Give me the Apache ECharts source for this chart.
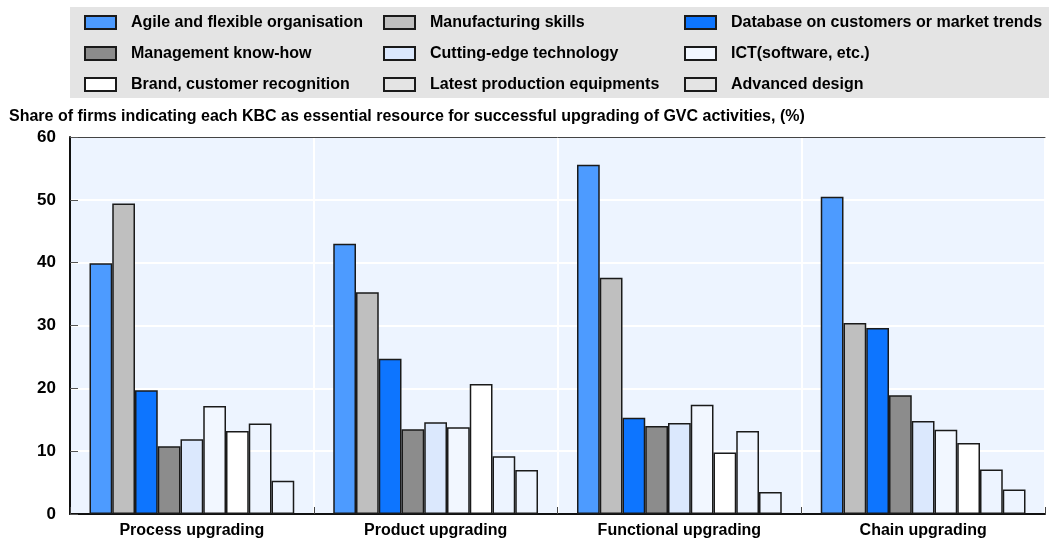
<!DOCTYPE html>
<html>
<head>
<meta charset="utf-8">
<script src="https://cdn.jsdelivr.net/npm/echarts@6/dist/echarts.min.js"></script>
<style>
  html, body { margin: 0; padding: 0; background: #fff; }
  #chart { width: 1049px; height: 543px; }
</style>
</head>
<body>
<div id="chart"></div>
<script>
const categories = ['Process upgrading', 'Product upgrading', 'Functional upgrading', 'Chain upgrading']

const seriesNames = [
  'Agile and flexible organisation',
  'Manufacturing skills',
  'Database on customers or market trends',
  'Management know-how',
  'Cutting-edge technology',
  'ICT(software, etc.)',
  'Brand, customer recognition',
  'Latest production equipments',
  'Advanced design'
]

const agile = [39.9, 43.0, 55.6, 50.5]
const manufacturing = [49.4, 35.3, 37.6, 30.4]
const database = [19.7, 24.7, 15.3, 29.6]
const management = [10.8, 13.5, 14.0, 18.9]
const cuttingEdge = [11.9, 14.6, 14.5, 14.8]
const ict = [17.2, 13.8, 17.4, 13.4]
const brand = [13.2, 20.7, 9.8, 11.3]
const latestEquipment = [14.4, 9.2, 13.2, 7.1]
const advancedDesign = [5.3, 7.0, 3.5, 3.9]

const yTicks = [0, 10, 20, 30, 40, 50, 60]

const allValues = [agile, manufacturing, database, management, cuttingEdge, ict, brand, latestEquipment, advancedDesign]
const colors = ['#4d9bff', '#bfbfbf', '#0d75ff', '#8c8c8c', '#dbe8fd', '#f2f7ff', '#ffffff', 'rgba(0,0,0,0)', 'rgba(0,0,0,0)']

const font = '"Liberation Sans Narrow", "Arial Narrow", "Liberation Sans", sans-serif'

const chart = echarts.init(document.getElementById('chart'), null, {renderer: 'canvas'})

function legendColumn(names, left) {
  return {
    data: names,
    orient: 'vertical',
    left: left,
    top: 14,
    icon: 'rect',
    itemWidth: 31,
    itemHeight: 13,
    itemGap: 14,
    padding: 0,
    selectedMode: false,
    textStyle: {
      fontFamily: font,
      fontWeight: 'bold',
      fontSize: 16,
      lineHeight: 17,
      color: '#000',
      padding: [0, 0, 0, 10]
    }
  }
}

chart.setOption({
  animation: false,
  graphic: [{
    type: 'rect',
    left: 70,
    top: 7,
    z: -10,
    shape: {width: 979, height: 91},
    style: {fill: '#e4e4e4'}
  }],
  title: {
    text: 'Share of firms indicating each KBC as essential resource for successful upgrading of GVC activities, (%)',
    left: 9,
    top: 109,
    padding: 0,
    textStyle: {
      fontFamily: font,
      fontWeight: 'bold',
      fontSize: 16,
      color: '#000'
    }
  },
  legend: [
    legendColumn([seriesNames[0], seriesNames[3], seriesNames[6]], 84),
    legendColumn([seriesNames[1], seriesNames[4], seriesNames[7]], 383),
    legendColumn([seriesNames[2], seriesNames[5], seriesNames[8]], 684)
  ],
  grid: {
    left: 70,
    right: 4,
    top: 137,
    bottom: 29,
    show: true,
    backgroundColor: '#edf4ff',
    borderWidth: 0
  },
  xAxis: [{
    type: 'category',
    data: categories,
    axisLine: {lineStyle: {color: '#111', width: 2}},
    axisTick: {show: true, inside: true, length: 7, lineStyle: {color: '#444'}},
    splitLine: {show: true, lineStyle: {color: '#ffffff', width: 2}},
    axisLabel: {
      fontFamily: font,
      fontWeight: 'bold',
      fontSize: 16,
      color: '#000',
      margin: 9
    }
  }, {
    type: 'category',
    position: 'top',
    data: categories,
    axisLine: {lineStyle: {color: '#444', width: 1}},
    axisTick: {show: false},
    axisLabel: {show: false}
  }],
  yAxis: {
    type: 'value',
    min: yTicks[0],
    max: yTicks[yTicks.length - 1],
    interval: 10,
    axisLine: {show: true, lineStyle: {color: '#111', width: 2}},
    axisTick: {show: true, inside: true, length: 8, lineStyle: {color: '#555'}},
    splitLine: {lineStyle: {color: '#ffffff', width: 2}},
    axisLabel: {
      fontFamily: font,
      fontWeight: 'bold',
      fontSize: 17,
      color: '#000',
      margin: 14
    }
  },
  series: seriesNames.map((name, i) => ({
    name: name,
    type: 'bar',
    data: allValues[i],
    barGap: '0%',
    barCategoryGap: '16%',
    itemStyle: {
      color: colors[i],
      borderColor: '#1a1a1a',
      borderWidth: 1.5
    }
  }))
})
</script>
</body>
</html>
